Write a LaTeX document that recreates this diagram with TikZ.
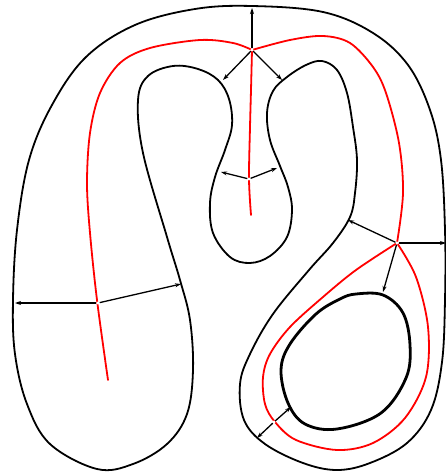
\documentclass[tikz,border=0pt]{standalone}
\usetikzlibrary{arrows.meta}
\tikzset{
  blk/.style={line width=1.8pt, black, line join=round},
  redl/.style={line width=1.8pt, red, line cap=round},
  oval/.style={line width=2.8pt, black},
  arr/.style={line width=1.3pt, black, -{Stealth[length=6pt,width=4pt]}},
  jn/.style={circle, fill=white, inner sep=1.1pt}
}
\begin{document}
\begin{tikzpicture}[x=1pt,y=-1pt]
\useasboundingbox (0,0) rectangle (446,473);
% outer curve
\draw[blk] plot[smooth cycle, tension=0.6] coordinates {
(252,6) (323,12) (373,33) (408,65) (430,110) (441,160) (445,230) (445,300) (442,362) (431,410) (407,443) (370,463) (337,470) (303,463) (265,444) (244,420) (240,384) (250,354) (273,314) (309,270) (333,243) (350,217) (355,193) (357,160) (353,127) (347,93) (337,70) (322,61) (306,65) (287,77) (273,91) (267,113) (270,140) (280,166) (288,187) (292,210) (287,237) (270,256) (250,263) (230,257) (213,233) (210,203) (215,177) (225,150) (232,125) (229,99) (218,80) (198,69) (173,66) (148,76) (138,100) (143,153) (167,237) (180,280) (190,320) (193,370) (187,414) (167,444) (133,464) (97,469) (50,444) (27,404) (15,354) (13,300) (17,230) (29,160) (52,105) (86,57) (135,25) (195,9)};
% inner oval
\draw[oval] plot[smooth cycle, tension=0.6] coordinates {
(356,294) (383,295) (403,313) (410,345) (406,378) (381,413) (337,429) (305,424) (288,403) (281,370) (290,344) (316,314) (340,299)};
% red skeleton
\coordinate (J1) at (252,50);
\coordinate (J2) at (397,243);
\draw[redl] plot[smooth, tension=0.55] coordinates {
(108,380) (97,300) (90,233) (87,183) (90,133) (100,93) (120,63) (150,48) (200,40) (233,43) (252,50)};
\draw[redl] plot[smooth, tension=0.55] coordinates {
(252,50) (290,40) (323,36) (350,43) (373,67) (386,93) (399,143) (403,193) (397,243)};
\draw[redl] plot[smooth, tension=0.55] coordinates {
(252,50) (251,90) (250,127) (249,179) (251,215)};
\draw[redl] plot[smooth, tension=0.55] coordinates {
(397,243) (416,277) (428,327) (426,377) (405,418) (373,443) (337,450) (296,440) (275,422) (265,404) (263,377) (270,354) (290,327) (323,297) (356,270) (397,243)};
% junction / sample points
\node[jn] (j1) at (J1) {};
\node[jn] (m) at (249,179) {};
\node[jn] (l) at (98,303) {};
\node[jn] (j2) at (J2) {};
\node[jn] (b) at (274,422) {};
% arrow targets on the boundary
\coordinate (j1u) at (252,8);
\coordinate (j1l) at (223,80);
\coordinate (j1r) at (282,80);
\coordinate (ml) at (221,172);
\coordinate (mr) at (277,168);
\coordinate (ll) at (15,303);
\coordinate (lr) at (181,284);
\coordinate (j2r) at (446,243);
\coordinate (j2u) at (348,220);
\coordinate (j2d) at (383,292);
\coordinate (bo) at (257,438);
\coordinate (bi) at (291,407);
% arrows
\draw[arr] (j1) -- (j1u);
\draw[arr] (j1) -- (j1l);
\draw[arr] (j1) -- (j1r);
\draw[arr] (m) -- (ml);
\draw[arr] (m) -- (mr);
\draw[arr] (l) -- (ll);
\draw[arr] (l) -- (lr);
\draw[arr] (j2) -- (j2r);
\draw[arr] (j2) -- (j2u);
\draw[arr] (j2) -- (j2d);
\draw[arr] (b) -- (bo);
\draw[arr] (b) -- (bi);
\end{tikzpicture}
\end{document}
